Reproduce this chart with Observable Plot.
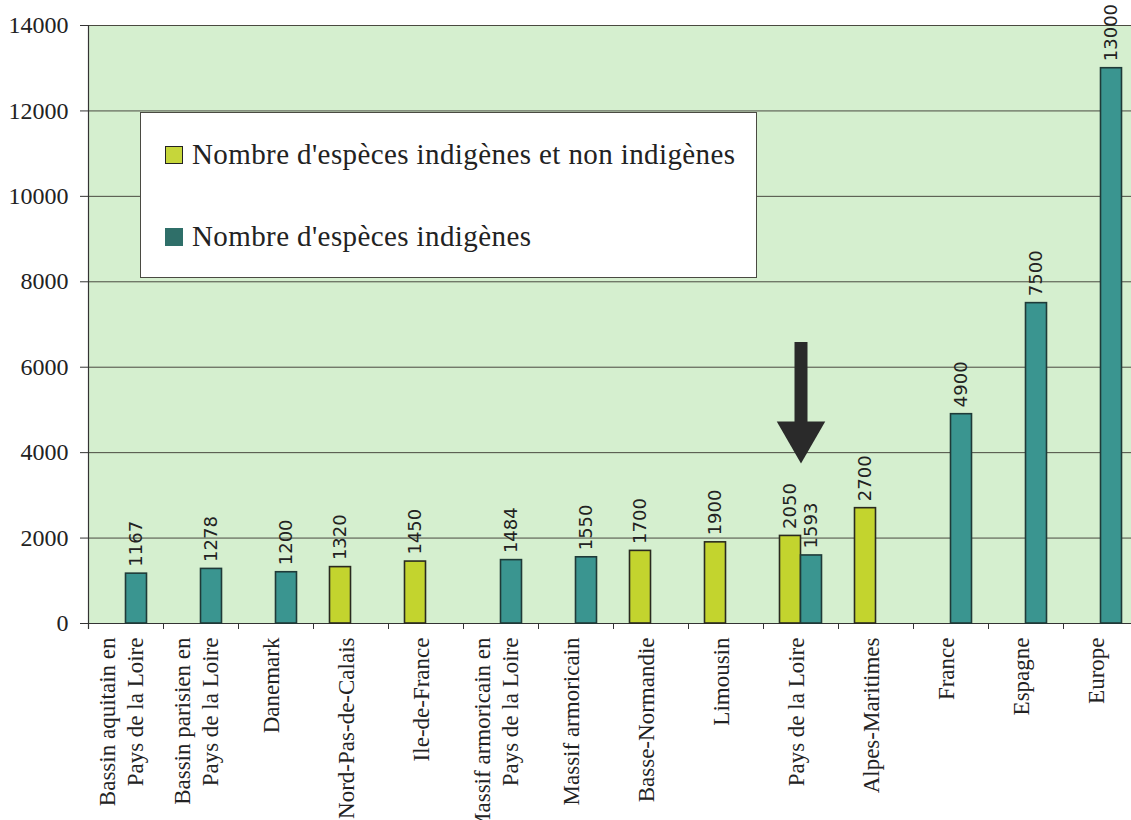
<!DOCTYPE html>
<html>
<head>
<meta charset="utf-8">
<script src="https://cdn.jsdelivr.net/npm/d3@7"></script>
<script src="https://cdn.jsdelivr.net/npm/@observablehq/plot@0.6"></script>
<style>
  html, body { margin: 0; padding: 0; background: #fff; }
  #wrap { position: relative; width: 1131px; height: 820px; overflow: hidden; }
  #legend {
    position: absolute; left: 140px; top: 112px; width: 615px; height: 164px;
    background: #fff; border: 1.5px solid #4a4a42; box-sizing: content-box;
    font-family: "Liberation Serif", "Times New Roman", serif; font-size: 29px; letter-spacing: 0.4px; color: #222;
  }
  .item { position: absolute; left: 24px; display: flex; align-items: center; white-space: nowrap; }
  .sw { width: 16px; height: 16px; border: 1.5px solid #222; margin-right: 9px; }
</style>
</head>
<body>
<div id="wrap">
  <div id="chart"></div>
  <div id="legend">
    <div class="item" style="top:25px"><span class="sw" style="background:#c6d63a"></span><span id="l1"></span></div>
    <div class="item" style="top:107px"><span class="sw" style="background:#2f6f69;border-color:#2f6f69"></span><span id="l2"></span></div>
  </div>
</div>
<script>
const categories = [
  "Bassin aquitain en Pays de la Loire",
  "Bassin parisien en Pays de la Loire",
  "Danemark",
  "Nord-Pas-de-Calais",
  "Ile-de-France",
  "Massif armoricain en Pays de la Loire",
  "Massif armoricain",
  "Basse-Normandie",
  "Limousin",
  "Pays de la Loire",
  "Alpes-Maritimes",
  "France",
  "Espagne",
  "Europe"
];
const tickLabels = [
  "Bassin aquitain en\nPays de la Loire",
  "Bassin parisien en\nPays de la Loire",
  "Danemark",
  "Nord-Pas-de-Calais",
  "Ile-de-France",
  "Massif armoricain en\nPays de la Loire",
  "Massif armoricain",
  "Basse-Normandie",
  "Limousin",
  "Pays de la Loire",
  "Alpes-Maritimes",
  "France",
  "Espagne",
  "Europe"
];
const seriesNames = ["Nombre d'espèces indigènes et non indigènes", "Nombre d'espèces indigènes"];
const allSpecies = [null, null, null, 1320, 1450, null, null, 1700, 1900, 2050, 2700, null, null, null];
const nativeSpecies = [1167, 1278, 1200, null, null, 1484, 1550, null, null, 1593, null, 4900, 7500, 13000];
const yTicks = [0, 2000, 4000, 6000, 8000, 10000, 12000, 14000];
const arrowTarget = "Pays de la Loire";
const arrowShaft = [6580, 4700];
const arrowHead = 4400;

document.getElementById("l1").textContent = seriesNames[0];
document.getElementById("l2").textContent = seriesNames[1];

const yellowRows = categories.map((c, i) => ({cat: c, value: allSpecies[i]})).filter(d => d.value != null);
const tealRows = categories.map((c, i) => ({cat: c, value: nativeSpecies[i]})).filter(d => d.value != null);
const labelOf = new Map(categories.map((c, i) => [c, tickLabels[i]]));

const W = 1131, H = 820, ML = 88, MR = 0, MT = 25, MB = 197;
const bw = 75;                       // the plot area runs slightly past the right edge
const xRange = [ML, ML + bw * categories.length];
const barW = 21;
const serif = "Liberation Serif, Times New Roman, serif";

const chart = Plot.plot({
  width: W, height: H,
  marginLeft: ML, marginRight: MR, marginTop: MT, marginBottom: MB,
  style: {background: "transparent", overflow: "visible", fontFamily: serif},
  x: {domain: categories, range: xRange, padding: 0, axis: null},
  y: {domain: [0, 14000], axis: null},
  marks: [
    Plot.frame({fill: "#d5efcf", stroke: "none"}),
    Plot.ruleY(yTicks, {stroke: "#4a4a40", strokeWidth: 1}),
    // y ticks and labels
    Plot.ruleY(yTicks, {y: d => d, stroke: "#333", strokeWidth: 1, insetLeft: -8, insetRight: W - ML - MR}),
    Plot.text(yTicks, {y: d => d, text: d => String(d), frameAnchor: "left", textAnchor: "end", dx: -20,
      fontSize: 24, fontFamily: serif, fill: "#222"}),
    // left axis line and category boundary ticks
    Plot.ruleX([categories[0]], {x: d => d, dx: -bw / 2, stroke: "#333", strokeWidth: 1.2, insetBottom: -6}),
    Plot.ruleX(categories, {x: d => d, dx: bw / 2, stroke: "#333", strokeWidth: 1, insetTop: H - MT - MB, insetBottom: -6}),
    Plot.ruleY([0], {stroke: "#333", strokeWidth: 1.2}),
    Plot.barY(yellowRows, {x: "cat", y: "value", fill: "#c3d42e", stroke: "#2a2a20", strokeWidth: 1.6,
      insetLeft: bw / 2 - barW, insetRight: bw / 2}),
    Plot.barY(tealRows, {x: "cat", y: "value", fill: "#3a9590", stroke: "#1f3a38", strokeWidth: 1.6,
      insetLeft: bw / 2, insetRight: bw / 2 - barW}),
    Plot.text(yellowRows, {x: "cat", y: "value", text: d => String(d.value), rotate: -90, textAnchor: "start",
      lineAnchor: "middle", dx: -barW / 2, dy: -7, fontSize: 18, fontFamily: "DejaVu Sans, sans-serif", fill: "#222"}),
    Plot.text(tealRows, {x: "cat", y: "value", text: d => String(d.value), rotate: -90, textAnchor: "start",
      lineAnchor: "middle", dx: barW / 2, dy: -7, fontSize: 18, fontFamily: "DejaVu Sans, sans-serif", fill: "#222"}),
    Plot.text(categories, {x: d => d, text: d => labelOf.get(d), frameAnchor: "bottom", lineAnchor: "middle", rotate: -90,
      textAnchor: "end", dx: -6, dy: 14, lineHeight: 1.2, fontSize: 23, fontFamily: serif, fill: "#222"}),
    // arrow
    Plot.ruleX([arrowTarget], {x: d => d, y1: arrowShaft[0], y2: arrowShaft[1], stroke: "#2a2a2a", strokeWidth: 13}),
    Plot.dot([arrowTarget], {x: d => d, y: arrowHead, symbol: "triangle", rotate: 180, r: 18, fill: "#2a2a2a", stroke: "none"})
  ]
});
document.getElementById("chart").appendChild(chart);
</script>
</body>
</html>
